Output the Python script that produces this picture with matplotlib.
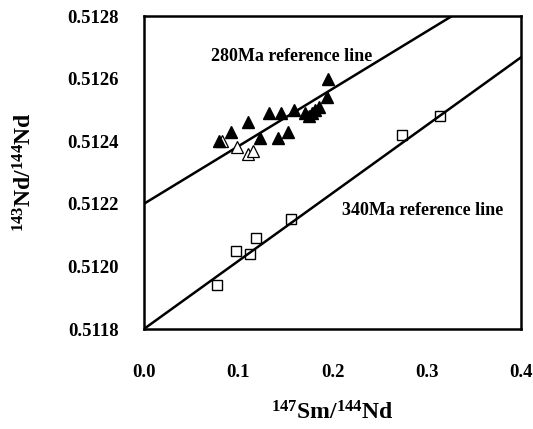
import numpy as np
import matplotlib
matplotlib.use("Agg")
from matplotlib import pyplot as plt

# Sm-Nd isochron style plot with two reference lines

# reference lines: intercept at x=0 and slope
line_names = ["280Ma reference line", "340Ma reference line"]
line_intercepts = [0.5122, 0.5118]
line_slopes = [0.001836, 0.002170]
line_label_x = [0.157, 0.296]
line_label_y = [0.51267, 0.51218]

# filled triangles
tri_x = [0.0799, 0.0923, 0.1107, 0.1231, 0.1326, 0.1425, 0.1450, 0.1524, 0.1595,
         0.1708, 0.1750, 0.1780, 0.1820, 0.1860, 0.1940, 0.1956]
tri_y = [0.51240, 0.51243, 0.51246, 0.51241, 0.51249, 0.51241, 0.51249, 0.51243, 0.51250,
         0.51249, 0.51248, 0.51249, 0.51250, 0.51251, 0.51254, 0.51260]

# open triangles
otri_x = [0.0824, 0.0983, 0.1107, 0.1160]
otri_y = [0.51240, 0.51238, 0.51236, 0.51237]

# open squares
sq_x = [0.0778, 0.0976, 0.1125, 0.1188, 0.1560, 0.2734, 0.3140]
sq_y = [0.51194, 0.51205, 0.51204, 0.51209, 0.51215, 0.51242, 0.51248]

xticks = [0.0, 0.1, 0.2, 0.3, 0.4]
xtick_labels = ['0.0', '0.1', '0.2', '0.3', '0.4']
yticks = [0.5118, 0.5120, 0.5122, 0.5124, 0.5126, 0.5128]
ytick_labels = ['0.5118', '0.5120', '0.5122', '0.5124', '0.5126', '0.5128']

plt.rcParams['font.family'] = ['Liberation Serif', 'DejaVu Serif']
plt.rcParams['font.weight'] = 'bold'
plt.rcParams['mathtext.fontset'] = 'custom'
plt.rcParams['mathtext.rm'] = 'Liberation Serif:bold'
plt.rcParams['mathtext.bf'] = 'Liberation Serif:bold'
plt.rcParams['mathtext.default'] = 'bf'

fig = plt.figure(figsize=(5.33, 4.29), dpi=100)
ax = fig.add_axes([0.270, 0.2331, 0.7075, 0.7296])

xs = np.array([0.0, 0.4])
for b, m in zip(line_intercepts, line_slopes):
    ax.plot(xs, b + m * xs, color='black', lw=1.8, zorder=2)

ax.plot(otri_x, otri_y, linestyle='none', marker='^', markersize=8,
        markerfacecolor='white', markeredgecolor='black', markeredgewidth=0.9, zorder=3)
ax.plot(tri_x, tri_y, linestyle='none', marker='^', markersize=8,
        color='black', zorder=4)
ax.plot(sq_x, sq_y, linestyle='none', marker='s', markersize=7.5,
        markerfacecolor='none', markeredgecolor='black', markeredgewidth=1.0, zorder=3)

for name, tx, ty in zip(line_names, line_label_x, line_label_y):
    ax.text(tx, ty, name, ha='center', va='center', fontsize=13, fontweight='bold')

ax.set_xlim(0.0, 0.4)
ax.set_ylim(0.5118, 0.5128)
ax.set_xticks(xticks)
ax.set_xticklabels(xtick_labels, fontsize=13.5, fontweight='bold')
ax.set_yticks(yticks)
ax.set_yticklabels(ytick_labels, fontsize=13.5, fontweight='bold')
ax.tick_params(axis='both', length=0)
ax.tick_params(axis='y', pad=18)
ax.tick_params(axis='x', pad=25)

for s in ax.spines.values():
    s.set_linewidth(1.8)

ax.set_xlabel(r'$^{147}$Sm/$^{144}$Nd', fontsize=17, fontweight='bold', va='center')
ax.set_ylabel(r'$^{143}$Nd/$^{144}$Nd', fontsize=17, fontweight='bold', va='center')
ax.xaxis.set_label_coords(0.5, -0.268)
ax.yaxis.set_label_coords(-0.315, 0.5)

fig.savefig('out.png', dpi=100)
